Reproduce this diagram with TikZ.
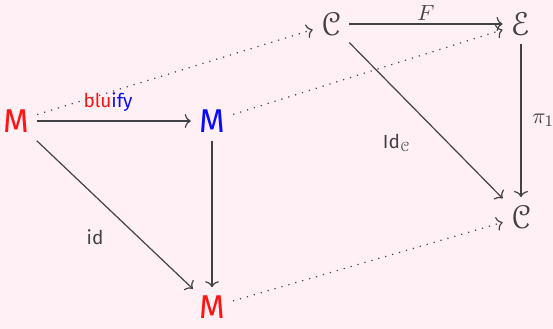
\documentclass[tikz,border=0pt]{standalone}
\usepackage{fontspec}
\setmainfont{Fira Sans}
\usepackage{amsmath}
\usepackage{eucal}
\usepackage{tikz}
\usetikzlibrary{arrows.meta}
\definecolor{diagbg}{RGB}{255,240,245}
\definecolor{diagline}{RGB}{66,66,70}
\definecolor{catred}{RGB}{255,20,20}
\definecolor{catblue}{RGB}{10,10,255}

\begin{document}
\begin{tikzpicture}[x=0.5pt, y=-0.5pt,
  obj/.style={inner sep=4pt, font=\fontsize{16.5}{16.5}\selectfont},
  map/.style={draw=diagline, line width=0.6pt, -{Computer Modern Rightarrow[length=3pt, width=7pt]}},
  ghost/.style={map, dash pattern=on 0.6pt off 3pt},
  lbl/.style={text=diagline, font=\fontsize{9.5}{9.5}\selectfont}]
  % Background
  \useasboundingbox (0,0) rectangle (553,328);
  \fill[diagbg] (-5,-5) rectangle (558,333);
  % Front square -- the M objects
  \node[obj, text=catred] (Mleft) at (16,121) {M};
  \node[obj, text=catblue] (Mblue) at (212,121) {M};
  \node[obj, text=catred, inner sep=1.5pt] (Mbot) at (212,307) {M};
  % Back square -- the categories
  \node[obj, text=diagline] (Ctop) at (331,24) {$\mathcal{C}$};
  \node[obj, text=diagline] (Etop) at (521,24) {$\mathcal{E}$};
  \node[obj, text=diagline] (Cbot) at (521,217) {$\mathcal{C}$};
  % Solid maps
  \draw[map] (Mleft) -- node[lbl, above, xshift=-3pt, yshift=1pt] {\textcolor{catred}{blu}\textcolor{catblue}{ify}} (Mblue);
  \draw[map, shorten >=2.5pt] (Mleft) -- node[lbl, below left, xshift=-3pt, yshift=-3pt] {id} (Mbot);
  \draw[map, shorten >=2.5pt] (Mblue) -- (Mbot);
  \draw[map] (Ctop) -- node[lbl, above, inner sep=1.5pt, font=\fontsize{11}{11}\selectfont] {$F$} (Etop);
  \draw[map] (Etop) -- node[lbl, right, xshift=2pt, font=\fontsize{11}{11}\selectfont] {$\pi_1$} (Cbot);
  \draw[map] (Ctop) -- node[lbl, below left, xshift=-4pt, yshift=-3pt] {Id$_{\mathcal{C}}$} (Cbot);
  % Dotted maps between the squares
  \draw[ghost] (Mleft) -- (Ctop);
  \draw[ghost] (Mblue) -- (Etop);
  \draw[ghost, shorten <=2.5pt] (Mbot) -- (Cbot);
\end{tikzpicture}
\end{document}
